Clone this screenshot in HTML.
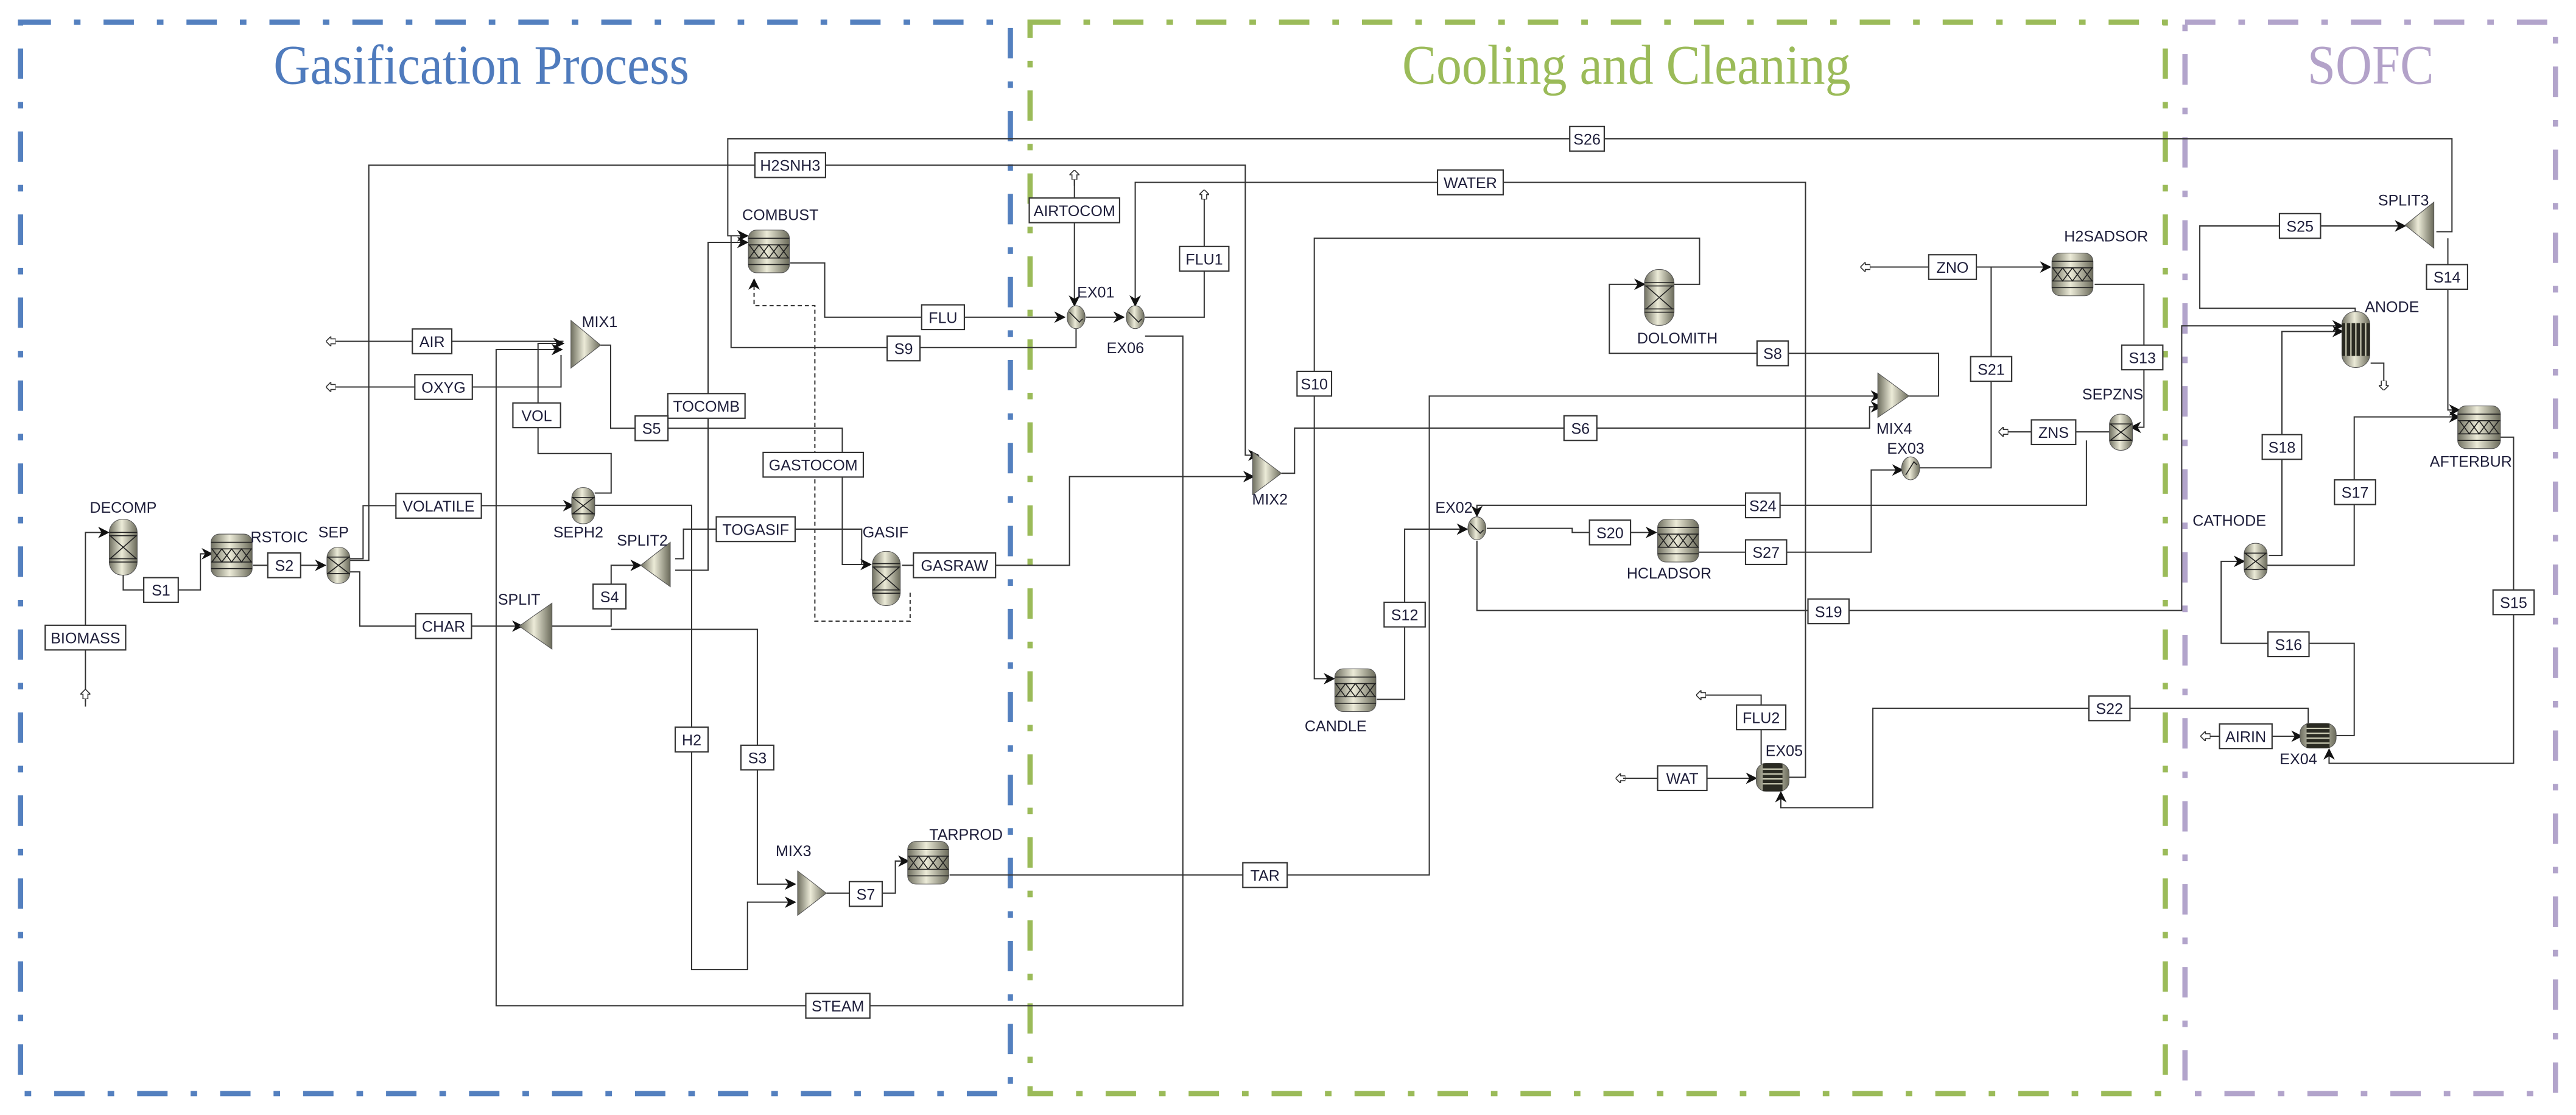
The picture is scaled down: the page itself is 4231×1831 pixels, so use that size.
<!DOCTYPE html>
<html><head><meta charset="utf-8"><style>
html,body{margin:0;padding:0;background:#fff;}
svg{display:block;}
text{font-family:"Liberation Sans",sans-serif;fill:#1e1e3a;}
.t{font-size:9.3px;text-anchor:middle;}
.ln{fill:none;stroke:#333;stroke-width:0.75;}
.bx{fill:#fff;stroke:#333;stroke-width:0.8;}
.blk{fill:url(#g);stroke:#555;stroke-width:0.4;}
</style></head><body>
<svg width="4231" height="1831" viewBox="0 0 1568 678.5" preserveAspectRatio="none" xmlns="http://www.w3.org/2000/svg">
<defs>
<linearGradient id="g" x1="0" y1="0" x2="1" y2="0">
<stop offset="0" stop-color="#6f6f60"/><stop offset="0.45" stop-color="#ecebd8"/><stop offset="1" stop-color="#6a6a5a"/>
</linearGradient>
<marker id="a" viewBox="0 0 10 10" refX="9" refY="5" markerWidth="7" markerHeight="7" markerUnits="userSpaceOnUse" orient="auto">
<path d="M0,0 L10,5 L0,10 L3,5 Z" fill="#111"/></marker>
<marker id="f" viewBox="0 0 10 10" refX="9" refY="5" markerWidth="6" markerHeight="6" markerUnits="userSpaceOnUse" orient="auto">
<path d="M0,2.5 H5 V0 L10,5 L5,10 V7.5 H0 Z" fill="#fff" stroke="#333" stroke-width="1"/></marker>
</defs>

<rect x="12.5" y="13.5" width="602.5" height="652" fill="none" stroke="#5480bf" stroke-width="3.2" stroke-dasharray="18.5 14 4 14"/>
<rect x="627" y="13.5" width="691" height="652" fill="none" stroke="#9bbb59" stroke-width="3.2" stroke-dasharray="18.5 14 4 14"/>
<rect x="1330" y="13.5" width="225.5" height="652" fill="none" stroke="#b2a4cb" stroke-width="3.2" stroke-dasharray="18.5 14 4 14"/>

<text x="293" y="51" font-size="34" text-anchor="middle" textLength="253" lengthAdjust="spacingAndGlyphs" style="fill:#4f7bbd;font-family:'Liberation Serif',serif">Gasification Process</text>
<text x="990" y="51" font-size="34" text-anchor="middle" textLength="273" lengthAdjust="spacingAndGlyphs" style="fill:#9bbb59;font-family:'Liberation Serif',serif">Cooling and Cleaning</text>
<text x="1443" y="51" font-size="34" text-anchor="middle" textLength="77" lengthAdjust="spacingAndGlyphs" style="fill:#b3a2c9;font-family:'Liberation Serif',serif">SOFC</text>

<g class="ln">
<path d="M1483,141 H1492.5 V84.5 H443 V143.5 H455" marker-end="url(#a)"/>
<path d="M213,341 H224.5 V100.5 H758 V277 H766" marker-end="url(#a)"/>
<path d="M1089,473 H1099 V111 H691 V186" marker-end="url(#a)"/>
<path d="M654,106 V186" marker-end="url(#a)"/>
<path d="M654,113 V104" marker-end="url(#f)"/>
<path d="M697,193 H733 V116" marker-end="url(#f)"/>
<path d="M481,160 H502 V193 H648" marker-end="url(#a)"/>
<path d="M661,193 H684" marker-end="url(#a)"/>
<path d="M655,200 V211.5 H445 V143.5"/>
<path d="M697,204.5 H720 V612 H302 V212.7 H342" marker-end="url(#a)"/>
<path d="M343,207.7 H199" marker-end="url(#f)"/>
<path d="M341.5,216 V235.5 H199" marker-end="url(#f)"/>
<path d="M362,300 H372 V276 H327.5 V209 H343" marker-end="url(#a)"/>
<path d="M365.5,210 H371.7 V260.6 H512.7 V343.5 H530" marker-end="url(#a)"/>
<path d="M411,347 H431 V147.5 H455" marker-end="url(#a)"/>
<path d="M411,340 H416 V322 H524.5 V343.5"/>
<path d="M554,360.7 V378 H496 V186 H459 V170" stroke-dasharray="2.5 1.8" marker-end="url(#a)"/>
<path d="M549,344 H651 V290 H763" marker-end="url(#a)"/>
<path d="M213,340 H221 V307.7 H349" marker-end="url(#a)"/>
<path d="M362,307.5 H421 V590 H455 V549 H484" marker-end="url(#a)"/>
<path d="M213,348 H219 V381 H318" marker-end="url(#a)"/>
<path d="M336,381 H372 V344 H390" marker-end="url(#a)"/>
<path d="M372,383 H461 V538 H484" marker-end="url(#a)"/>
<path d="M503,543.5 H545 V524 H553" marker-end="url(#a)"/>
<path d="M578,532.4 H870 V241 H1145" marker-end="url(#a)"/>
<path d="M52,427 V324 H66" marker-end="url(#a)"/>
<path d="M52,430 V420" marker-end="url(#f)"/>
<path d="M75,349.6 V359 H122 V337 H129" marker-end="url(#a)"/>
<path d="M154,344 H198" marker-end="url(#a)"/>
<path d="M780,288 H788 V260.5 H1138 V247.6 H1145" marker-end="url(#a)"/>
<path d="M1162,241 H1180 V215 H979.6 V173 H1001" marker-end="url(#a)"/>
<path d="M1019,173 H1034.5 V145 H800 V413 H812" marker-end="url(#a)"/>
<path d="M838,425.6 H855 V322 H893" marker-end="url(#a)"/>
<path d="M905,321.5 H957 V324 H1008" marker-end="url(#a)"/>
<path d="M1270,268 V307.5 H899 V314" marker-end="url(#a)"/>
<path d="M1034,336 H1139 V286 H1158" marker-end="url(#a)"/>
<path d="M1168,284.7 H1212 V162.5 H1248" marker-end="url(#a)"/>
<path d="M1212,162.5 H1133" marker-end="url(#f)"/>
<path d="M1275,173 H1305 V260 H1297" marker-end="url(#a)"/>
<path d="M1284,262.8 H1217" marker-end="url(#f)"/>
<path d="M899,329 V371.5 H1328 V198.3 H1426" marker-end="url(#a)"/>
<path d="M1381,338 H1389 V201.7 H1426" marker-end="url(#a)"/>
<path d="M1443,221 H1451 V237" marker-end="url(#f)"/>
<path d="M1433.6,190 V187.6 H1339 V137.5 H1464" marker-end="url(#a)"/>
<path d="M1490,145 V249.5 H1497" marker-end="url(#a)"/>
<path d="M1522,266 H1530 V464.5 H1417.7 V456" marker-end="url(#a)"/>
<path d="M988,473.6 H984" marker-end="url(#f)"/>
<path d="M988,473.6 H1069" marker-end="url(#a)"/>
<path d="M1072,465 V423 H1033" marker-end="url(#f)"/>
<path d="M1405,440 V431 H1140 V491.5 H1084 V482" marker-end="url(#a)"/>
<path d="M1345,448 H1401" marker-end="url(#a)"/>
<path d="M1343,448 H1340" marker-end="url(#f)"/>
<path d="M1421,447.6 H1433 V391.5 H1352 V341.6 H1366" marker-end="url(#a)"/>
<path d="M1380,344 H1433 V253.7 H1497" marker-end="url(#a)"/>
</g>

<g>
<g transform="translate(468,153)"><rect class="blk" x="-12.5" y="-13" width="25" height="26" rx="5"/><path d="M-12.5,-8 H12.5 M-12.5,-4 H12.5 M-12.5,4 H12.5 M-12.5,8 H12.5 M-12,-4 L-6,4 L0,-4 L6,4 L12,-4 M-12,4 L-6,-4 L0,4 L6,-4 L12,4" stroke="#222" stroke-width="0.6" fill="none"/></g>
<g transform="translate(141,338)"><rect class="blk" x="-12.5" y="-13" width="25" height="26" rx="5"/><path d="M-12.5,-8 H12.5 M-12.5,-4 H12.5 M-12.5,4 H12.5 M-12.5,8 H12.5 M-12,-4 L-6,4 L0,-4 L6,4 L12,-4 M-12,4 L-6,-4 L0,4 L6,-4 L12,4" stroke="#222" stroke-width="0.6" fill="none"/></g>
<g transform="translate(565,525)"><rect class="blk" x="-12.5" y="-13" width="25" height="26" rx="5"/><path d="M-12.5,-8 H12.5 M-12.5,-4 H12.5 M-12.5,4 H12.5 M-12.5,8 H12.5 M-12,-4 L-6,4 L0,-4 L6,4 L12,-4 M-12,4 L-6,-4 L0,4 L6,-4 L12,4" stroke="#222" stroke-width="0.6" fill="none"/></g>
<g transform="translate(825,420)"><rect class="blk" x="-12.5" y="-13" width="25" height="26" rx="5"/><path d="M-12.5,-8 H12.5 M-12.5,-4 H12.5 M-12.5,4 H12.5 M-12.5,8 H12.5 M-12,-4 L-6,4 L0,-4 L6,4 L12,-4 M-12,4 L-6,-4 L0,4 L6,-4 L12,4" stroke="#222" stroke-width="0.6" fill="none"/></g>
<g transform="translate(1021.5,329)"><rect class="blk" x="-12.5" y="-13" width="25" height="26" rx="5"/><path d="M-12.5,-8 H12.5 M-12.5,-4 H12.5 M-12.5,4 H12.5 M-12.5,8 H12.5 M-12,-4 L-6,4 L0,-4 L6,4 L12,-4 M-12,4 L-6,-4 L0,4 L6,-4 L12,4" stroke="#222" stroke-width="0.6" fill="none"/></g>
<g transform="translate(1261.5,167)"><rect class="blk" x="-12.5" y="-13" width="25" height="26" rx="5"/><path d="M-12.5,-8 H12.5 M-12.5,-4 H12.5 M-12.5,4 H12.5 M-12.5,8 H12.5 M-12,-4 L-6,4 L0,-4 L6,4 L12,-4 M-12,4 L-6,-4 L0,4 L6,-4 L12,4" stroke="#222" stroke-width="0.6" fill="none"/></g>
<g transform="translate(1509,260)"><rect class="blk" x="-13" y="-13" width="26" height="26" rx="5"/><path d="M-13,-8 H13 M-13,-4 H13 M-13,4 H13 M-13,8 H13 M-12,-4 L-6,4 L0,-4 L6,4 L12,-4 M-12,4 L-6,-4 L0,4 L6,-4 L12,4" stroke="#222" stroke-width="0.6" fill="none"/></g>
</g>

<g>
<g transform="translate(75,333)"><rect class="blk" x="-8.5" y="-17" width="17" height="34" rx="8"/><path d="M-8.5,-9 H8.5 M-8.5,-7 H8.5 M-8.5,7 H8.5 M-8.5,9 H8.5 M-8,-7 L8,7 M8,-7 L-8,7" stroke="#222" stroke-width="0.6" fill="none"/></g>
<g transform="translate(539.5,352)"><rect class="blk" x="-8.5" y="-16.5" width="17" height="33" rx="8"/><path d="M-8.5,-9 H8.5 M-8.5,-7 H8.5 M-8.5,7 H8.5 M-8.5,9 H8.5 M-8,-7 L8,7 M8,-7 L-8,7" stroke="#222" stroke-width="0.6" fill="none"/></g>
<g transform="translate(1010,181)"><rect class="blk" x="-9" y="-17" width="18" height="34" rx="8.5"/><path d="M-9,-9 H9 M-9,-7 H9 M-9,7 H9 M-9,9 H9 M-8,-7 L8,7 M8,-7 L-8,7" stroke="#222" stroke-width="0.6" fill="none"/></g>
<g transform="translate(206,344)"><rect class="blk" x="-7" y="-11" width="14" height="22" rx="6.5"/><path d="M-7,-5 H7 M-7,5 H7 M-6.5,-5 L6.5,5 M6.5,-5 L-6.5,5" stroke="#222" stroke-width="0.6" fill="none"/></g>
<g transform="translate(355,307.7)"><rect class="blk" x="-7" y="-11" width="14" height="22" rx="6.5"/><path d="M-7,-5 H7 M-7,5 H7 M-6.5,-5 L6.5,5 M6.5,-5 L-6.5,5" stroke="#222" stroke-width="0.6" fill="none"/></g>
<g transform="translate(1291,263)"><rect class="blk" x="-7" y="-11" width="14" height="22" rx="6.5"/><path d="M-7,-5 H7 M-7,5 H7 M-6.5,-5 L6.5,5 M6.5,-5 L-6.5,5" stroke="#222" stroke-width="0.6" fill="none"/></g>
<g transform="translate(1373,341.6)"><rect class="blk" x="-7" y="-11" width="14" height="22" rx="6.5"/><path d="M-7,-5 H7 M-7,5 H7 M-6.5,-5 L6.5,5 M6.5,-5 L-6.5,5" stroke="#222" stroke-width="0.6" fill="none"/></g>
<g transform="translate(1434,206.6)"><rect class="blk" x="-8.5" y="-17" width="17" height="34" rx="8"/><rect x="-8.5" y="-10" width="17" height="20" fill="#2a2a22"/><path d="M-6,-10 V10 M-3,-10 V10 M0,-10 V10 M3,-10 V10 M6,-10 V10" stroke="#cfcfb8" stroke-width="0.8"/></g>
</g>

<g>
<g transform="translate(1079,473)"><rect class="blk" x="-10" y="-8.5" width="20" height="17" rx="6"/><rect x="-6" y="-8.5" width="12" height="17" fill="#2a2a22"/><path d="M-6,-5 H6 M-6,-2 H6 M-6,1 H6 M-6,4 H6" stroke="#cfcfb8" stroke-width="0.8"/></g>
<g transform="translate(1411,447.7)"><rect class="blk" x="-11" y="-7.5" width="22" height="15" rx="6"/><rect x="-7" y="-7.5" width="14" height="15" fill="#2a2a22"/><path d="M-7,-4.5 H7 M-7,-1.5 H7 M-7,1.5 H7 M-7,4.5 H7" stroke="#cfcfb8" stroke-width="0.8"/></g>
</g>

<g>
<g transform="translate(655,193)"><ellipse class="blk" rx="5.5" ry="7"/><path d="M-4,-3 L2,3 L4,1" stroke="#222" stroke-width="0.6" fill="none"/></g>
<g transform="translate(691,193)"><ellipse class="blk" rx="5.5" ry="7"/><path d="M-4,-3 L2,3 L4,1" stroke="#222" stroke-width="0.6" fill="none"/></g>
<g transform="translate(899,321.5)"><ellipse class="blk" rx="5.5" ry="7"/><path d="M-4,-3 L2,3 L4,1" stroke="#222" stroke-width="0.6" fill="none"/></g>
<g transform="translate(1163,285)"><ellipse class="blk" rx="5.5" ry="7"/><path d="M-3,4 L2,-4 L4,-2" stroke="#222" stroke-width="0.6" fill="none"/></g>
</g>

<g class="blk">
<polygon points="347.5,195 365.6,210 347.5,224"/>
<polygon points="762.5,275 780,288 762.5,301"/>
<polygon points="485.5,530 503,543.5 485.5,557"/>
<polygon points="1143,227 1162,241 1143,254"/>
<polygon points="316,381 336,367 336,395"/>
<polygon points="390,344 408,330 408,357"/>
<polygon points="1464,137 1481.5,123 1481.5,151"/>
</g>

<g class="t">
<text x="475" y="134">COMBUST</text>
<text x="365" y="199">MIX1</text>
<text x="352" y="327">SEPH2</text>
<text x="391" y="332">SPLIT2</text>
<text x="539" y="327">GASIF</text>
<text x="316" y="368">SPLIT</text>
<text x="75" y="312">DECOMP</text>
<text x="170" y="330">RSTOIC</text>
<text x="203" y="327">SEP</text>
<text x="483" y="521">MIX3</text>
<text x="588" y="511">TARPROD</text>
<text x="667" y="181">EX01</text>
<text x="685" y="215">EX06</text>
<text x="773" y="307">MIX2</text>
<text x="1021" y="209">DOLOMITH</text>
<text x="1153" y="264">MIX4</text>
<text x="885" y="312">EX02</text>
<text x="1016" y="352">HCLADSOR</text>
<text x="813" y="445">CANDLE</text>
<text x="1160" y="276">EX03</text>
<text x="1286" y="243">SEPZNS</text>
<text x="1282" y="147">H2SADSOR</text>
<text x="1086" y="460">EX05</text>
<text x="1399" y="465">EX04</text>
<text x="1463" y="125">SPLIT3</text>
<text x="1456" y="190">ANODE</text>
<text x="1357" y="320">CATHODE</text>
<text x="1504" y="284">AFTERBUR</text>
</g>

<g>
<rect class="bx" x="459.5" y="93" width="43" height="15"/><rect class="bx" x="955.5" y="77" width="21" height="15"/>
<rect class="bx" x="875" y="103.5" width="40" height="15"/><rect class="bx" x="626.5" y="120.5" width="55" height="15"/>
<rect class="bx" x="718" y="150" width="30" height="15"/><rect class="bx" x="561" y="185.5" width="26" height="15"/>
<rect class="bx" x="540" y="204.5" width="20" height="15"/><rect class="bx" x="251" y="200.2" width="24" height="15"/>
<rect class="bx" x="252.5" y="228" width="35" height="15"/><rect class="bx" x="312.2" y="245.2" width="29" height="15"/>
<rect class="bx" x="406.5" y="239.5" width="47" height="15"/><rect class="bx" x="386.6" y="253.1" width="20" height="15"/>
<rect class="bx" x="464.5" y="275.3" width="61" height="15"/><rect class="bx" x="241" y="300.3" width="52" height="15"/>
<rect class="bx" x="436" y="314.5" width="48" height="15"/><rect class="bx" x="556" y="336.5" width="50" height="15"/>
<rect class="bx" x="361" y="355.5" width="20" height="15"/><rect class="bx" x="253" y="373.5" width="34" height="15"/>
<rect class="bx" x="87.5" y="351.5" width="21" height="15"/><rect class="bx" x="163" y="336.5" width="20" height="15"/>
<rect class="bx" x="27.5" y="380.5" width="49" height="15"/><rect class="bx" x="411" y="442.5" width="20" height="15"/>
<rect class="bx" x="451" y="453.5" width="20" height="15"/><rect class="bx" x="517" y="536.5" width="20" height="15"/>
<rect class="bx" x="490.5" y="604.5" width="39" height="15"/><rect class="bx" x="756.5" y="525" width="27" height="15"/>
<rect class="bx" x="789.5" y="226" width="21" height="15"/><rect class="bx" x="1069.5" y="207.5" width="19" height="15"/>
<rect class="bx" x="952" y="253" width="20" height="15"/><rect class="bx" x="1062.5" y="300" width="21" height="15"/>
<rect class="bx" x="967.5" y="316.5" width="25" height="15"/><rect class="bx" x="1062.5" y="328.5" width="25" height="15"/>
<rect class="bx" x="842.5" y="366.5" width="25" height="15"/><rect class="bx" x="1100.5" y="364.5" width="25" height="15"/>
<rect class="bx" x="1057" y="429" width="30" height="15"/><rect class="bx" x="1009" y="466" width="30" height="15"/>
<rect class="bx" x="1271.5" y="423.5" width="25" height="15"/><rect class="bx" x="1199.5" y="217" width="25" height="15"/>
<rect class="bx" x="1174" y="155" width="29" height="15"/><rect class="bx" x="1291.5" y="210" width="25" height="15"/>
<rect class="bx" x="1236.5" y="255.5" width="27" height="15"/><rect class="bx" x="1387.5" y="130" width="25" height="15"/>
<rect class="bx" x="1477" y="161" width="25" height="15"/><rect class="bx" x="1377" y="264.5" width="24" height="15"/>
<rect class="bx" x="1421" y="292" width="25" height="15"/><rect class="bx" x="1380.5" y="384.5" width="25" height="15"/>
<rect class="bx" x="1517.5" y="359" width="25" height="15"/><rect class="bx" x="1351" y="440.5" width="32" height="15"/>
</g>
<g class="t">
<text x="481" y="104">H2SNH3</text><text x="966" y="88">S26</text><text x="895" y="114.5">WATER</text>
<text x="654" y="131.5">AIRTOCOM</text><text x="733" y="161">FLU1</text><text x="574" y="196.5">FLU</text>
<text x="550" y="215.5">S9</text><text x="263" y="211.2">AIR</text><text x="270" y="239">OXYG</text>
<text x="326.7" y="256.2">VOL</text><text x="430" y="250.5">TOCOMB</text><text x="396.6" y="264.1">S5</text>
<text x="495" y="286.3">GASTOCOM</text><text x="267" y="311.3">VOLATILE</text><text x="460" y="325.5">TOGASIF</text>
<text x="581" y="347.5">GASRAW</text><text x="371" y="366.5">S4</text><text x="270" y="384.5">CHAR</text>
<text x="98" y="362.5">S1</text><text x="173" y="347.5">S2</text><text x="52" y="391.5">BIOMASS</text>
<text x="421" y="453.5">H2</text><text x="461" y="464.5">S3</text><text x="527" y="547.5">S7</text>
<text x="510" y="615.5">STEAM</text><text x="770" y="536">TAR</text><text x="800" y="237">S10</text>
<text x="1079" y="218.5">S8</text><text x="962" y="264">S6</text><text x="1073" y="311">S24</text>
<text x="980" y="327.5">S20</text><text x="1075" y="339.5">S27</text><text x="855" y="377.5">S12</text>
<text x="1113" y="375.5">S19</text><text x="1072" y="440">FLU2</text><text x="1024" y="477">WAT</text>
<text x="1284" y="434.5">S22</text><text x="1212" y="228">S21</text><text x="1188.5" y="166">ZNO</text>
<text x="1304" y="221">S13</text><text x="1250" y="266.5">ZNS</text><text x="1400" y="141">S25</text>
<text x="1489.5" y="172">S14</text><text x="1389" y="275.5">S18</text><text x="1433.5" y="303">S17</text>
<text x="1393" y="395.5">S16</text><text x="1530" y="370">S15</text><text x="1367" y="451.5">AIRIN</text>
</g>
</svg>
</body></html>
